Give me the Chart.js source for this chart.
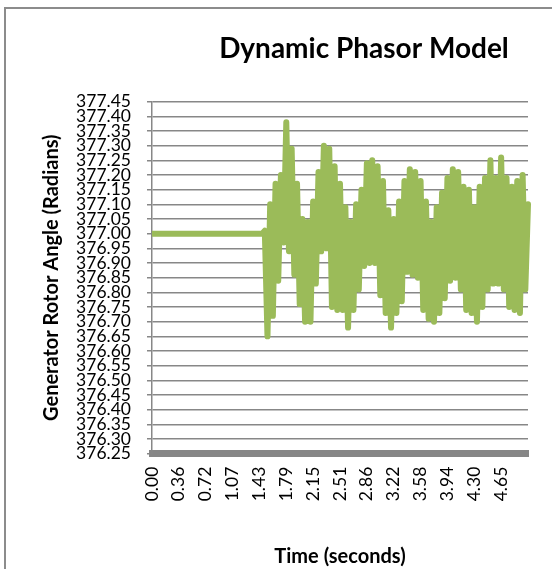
<!DOCTYPE html>
<html><head><meta charset="utf-8">
<script src="https://cdn.jsdelivr.net/npm/chart.js@4.4.1/dist/chart.umd.min.js"></script>
<style>
html,body{margin:0;padding:0;background:#fff;overflow:hidden;width:552px;height:569px;}
#frame{position:absolute;left:4px;top:7px;width:716px;height:560px;border-left:2px solid #8c8c8c;border-top:2px solid #8c8c8c;}
canvas{display:block;}
</style></head><body>
<div id="frame"><canvas id="c" width="716" height="560"></canvas></div>
<script>
// x-axis tick labels (time in seconds), one every 10 samples
const timeTicks = ['0.00','0.36','0.72','1.07','1.43','1.79','2.15','2.51','2.86','3.22','3.58','3.94','4.30','4.65'];
// y-axis tick values (radians)
const yTicks = [376.25,376.30,376.35,376.40,376.45,376.50,376.55,376.60,376.65,376.70,376.75,376.80,376.85,
  376.90,376.95,377.00,377.05,377.10,377.15,377.20,377.25,377.30,377.35,377.40,377.45];
// generator rotor angle samples
const angle = [
  377.00,377.00,377.00,377.00,377.00,377.00,377.00,377.00,377.00,377.00,
  377.00,377.00,377.00,377.00,377.00,377.00,377.00,377.00,377.00,377.00,
  377.00,377.00,377.00,377.00,377.00,377.00,377.00,377.00,377.00,377.00,
  377.00,377.00,377.00,377.00,377.00,377.00,377.00,377.00,377.00,377.00,
  377.00,377.00,
  377.01,376.65,377.10,376.72,377.17,376.84,377.20,376.97,377.38,376.94,
  377.29,376.86,377.17,376.76,377.05,376.70,377.04,376.70,377.11,376.83,
  377.21,376.94,377.30,376.95,377.29,376.75,377.23,376.74,377.17,376.74,
  377.09,376.68,377.04,376.74,377.10,376.81,377.15,376.89,377.24,376.90,
  377.25,376.90,377.23,376.79,377.18,376.73,377.08,376.68,377.05,376.73,
  377.11,376.77,377.18,376.87,377.22,376.86,377.21,376.85,377.18,376.74,
  377.11,376.71,377.04,376.70,377.09,376.73,377.14,376.78,377.19,376.84,
  377.22,376.85,377.21,376.81,377.16,376.74,377.15,376.73,377.09,376.70,
  377.16,376.75,377.19,376.81,377.25,376.83,377.19,376.83,377.26,376.81,
  377.19,376.75,377.16,376.74,377.18,376.73,377.20,376.81,377.10
];
const categories = angle.map((_, i) => (i % 10 === 0 && timeTicks[i / 10] !== undefined) ? timeTicks[i / 10] : '');

new Chart(document.getElementById('c'), {
  type: 'line',
  data: {
    labels: categories,
    datasets: [{
      label: 'Generator Rotor Angle',
      data: angle,
      borderColor: '#9bbb59',
      backgroundColor: '#9bbb59',
      borderWidth: 6,
      pointRadius: 0,
      pointHoverRadius: 0,
      tension: 0,
      borderJoinStyle: 'round',
      borderCapStyle: 'round',
      fill: false,
      clip: {left: 0, top: 10, right: 10, bottom: 10}
    }]
  },
  options: {
    responsive: false,
    animation: false,
    devicePixelRatio: 1,
    layout: {padding: 0},
    plugins: {
      legend: {display: false},
      tooltip: {enabled: false},
      title: {
        display: true, text: 'Dynamic Phasor Model', color: '#000',
        font: {family: 'Lato', size: 28, weight: 'bold'},
        padding: {top: 23.1, bottom: 36}
      }
    },
    scales: {
      x: {
        type: 'category',
        grid: {display: false, drawTicks: false},
        border: {display: true, color: '#868686', width: 7},
        ticks: {autoSkip: false, maxRotation: 90, minRotation: 90, padding: 13, color: '#000',
          font: {family: 'Lato', size: 17.5}},
        title: {display: true, text: 'Time (seconds)', color: '#000',
          font: {family: 'Lato', size: 20, weight: 'bold'}, padding: {top: 0, bottom: 0.5}},
        afterFit: s => { s.height = 115.3; }
      },
      y: {
        type: 'linear', min: 376.25, max: 377.45,
        afterBuildTicks: s => { s.ticks = yTicks.map(v => ({value: v})); },
        grid: {color: '#878787', lineWidth: 1.5, drawTicks: true, tickLength: 5},
        border: {display: true, color: '#878787', width: 1.5},
        ticks: {autoSkip: false, padding: 16, color: '#000', font: {family: 'Lato', size: 17.5},
          callback: v => Number(v).toFixed(2)},
        title: {display: true, text: 'Generator Rotor Angle (Radians)', color: '#000',
          font: {family: 'Lato', size: 20, weight: 'bold'}, padding: {top: 34, bottom: 0}},
        afterFit: s => { s.width = 146; }
      },
      yRight: {
        position: 'right', display: true,
        grid: {display: false}, border: {display: false}, ticks: {display: false},
        afterFit: s => { s.width = 194; }
      }
    }
  }
});
</script>
</body></html>
